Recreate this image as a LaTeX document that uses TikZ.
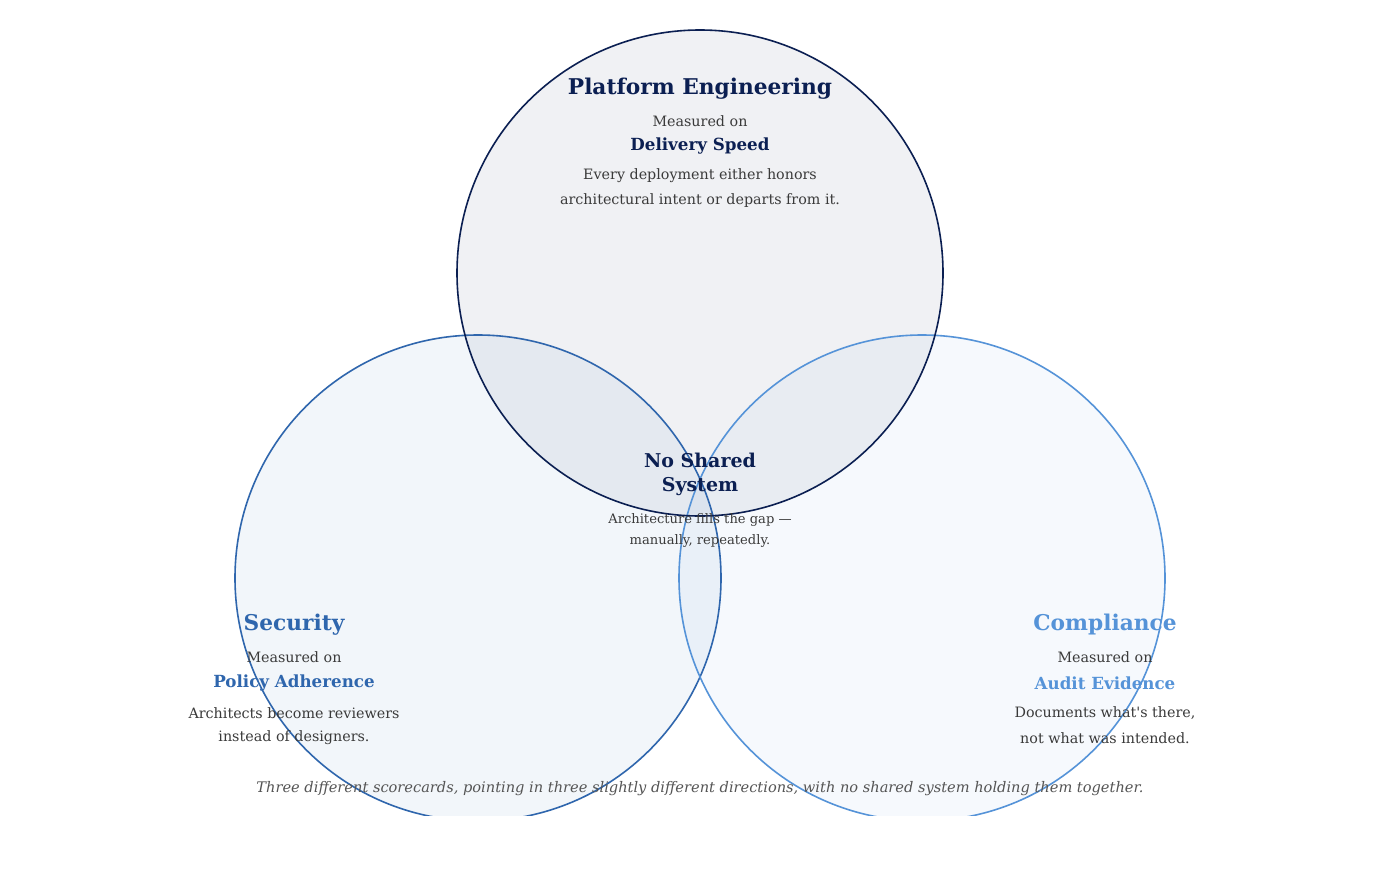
\documentclass[tikz,border=0pt]{standalone}
\usepackage{fontspec}
\setmainfont{DejaVu Serif}
\newfontfamily\plainserif{DejaVu Serif}[Ligatures=ResetAll]
\definecolor{navy}{HTML}{0B1F52}
\definecolor{secblue}{HTML}{2F66AD}
\definecolor{compblue}{HTML}{5593D8}
\definecolor{bodygray}{HTML}{3A3A3A}
\definecolor{capgray}{HTML}{555555}
\tikzset{
  heading/.style={font=\fontsize{21.7}{26}\selectfont\bfseries, anchor=center, inner sep=0pt},
  cheading/.style={font=\fontsize{19}{23}\selectfont\bfseries, anchor=center, inner sep=0pt},
  metric/.style={font=\fontsize{16.7}{20}\selectfont\bfseries, anchor=center, inner sep=0pt},
  body/.style={font=\fontsize{14.3}{17}\selectfont, text=bodygray, anchor=center, inner sep=0pt},
  small/.style={font=\fontsize{13.1}{15}\selectfont, text=bodygray, anchor=center, inner sep=0pt},
  caption/.style={font=\fontsize{14.6}{17}\selectfont\itshape, text=capgray, anchor=center, inner sep=0pt},
}
\begin{document}
\begin{tikzpicture}[x=1pt,y=-1pt]
\useasboundingbox (0,0) rectangle (1400,892);
\fill[white] (0,0) rectangle (1400,892);
\begin{scope}
  \clip (0,0) rectangle (1400,815);
  \fill[secblue, fill opacity=0.06] (478,578) circle (243);
  \fill[compblue, fill opacity=0.05] (922,578) circle (243);
  \fill[navy, fill opacity=0.06] (700,273) circle (243);
  \draw[secblue, line width=1.6pt] (478,578) circle (243);
  \draw[compblue, line width=1.6pt] (922,578) circle (243);
  \draw[navy, line width=1.6pt] (700,273) circle (243);
\end{scope}
% Platform Engineering
\node[heading, text=navy] (pe) at (700,89) {Platform Engineering};
\node[body] (pem) at (700,121) {Measured on};
\node[metric, text=navy] (pes) at (700,146) {Delivery Speed};
\node[body] (ped1) at (700,176) {Every deployment either honors};
\node[body] (ped2) at (700,201) {architectural intent or departs from it.};
% Center
\node[cheading, text=navy] (ns1) at (700,460) {No Shared};
\node[cheading, text=navy] (ns2) at (700,487) {System};
\node[small] (nsd1) at (700,520) {Architecture fills the gap —};
\node[small] (nsd2) at (700,541) {manually, repeatedly.};
% Security
\node[heading, text=secblue] (se) at (294,625) {Security};
\node[body] (sem) at (294,657) {Measured on};
\node[metric, text=secblue] (ses) at (294,683) {Policy Adherence};
\node[body] (sed1) at (294,713) {Architects become reviewers};
\node[body] (sed2) at (294,738) {instead of designers.};
% Compliance
\node[heading, text=compblue] (co) at (1105,625) {Compliance};
\node[body] (com) at (1105,657) {Measured on};
\node[metric, text=compblue] (cos) at (1105,683) {Audit Evidence};
\node[body] (cod1) at (1105,713) {\plainserif Documents what's there,};
\node[body] (cod2) at (1105,738) {not what was intended.};
% Caption
\node[caption] (cap) at (700,789) {Three different scorecards, pointing in three slightly different directions, with no shared system holding them together.};
\end{tikzpicture}
\end{document}
